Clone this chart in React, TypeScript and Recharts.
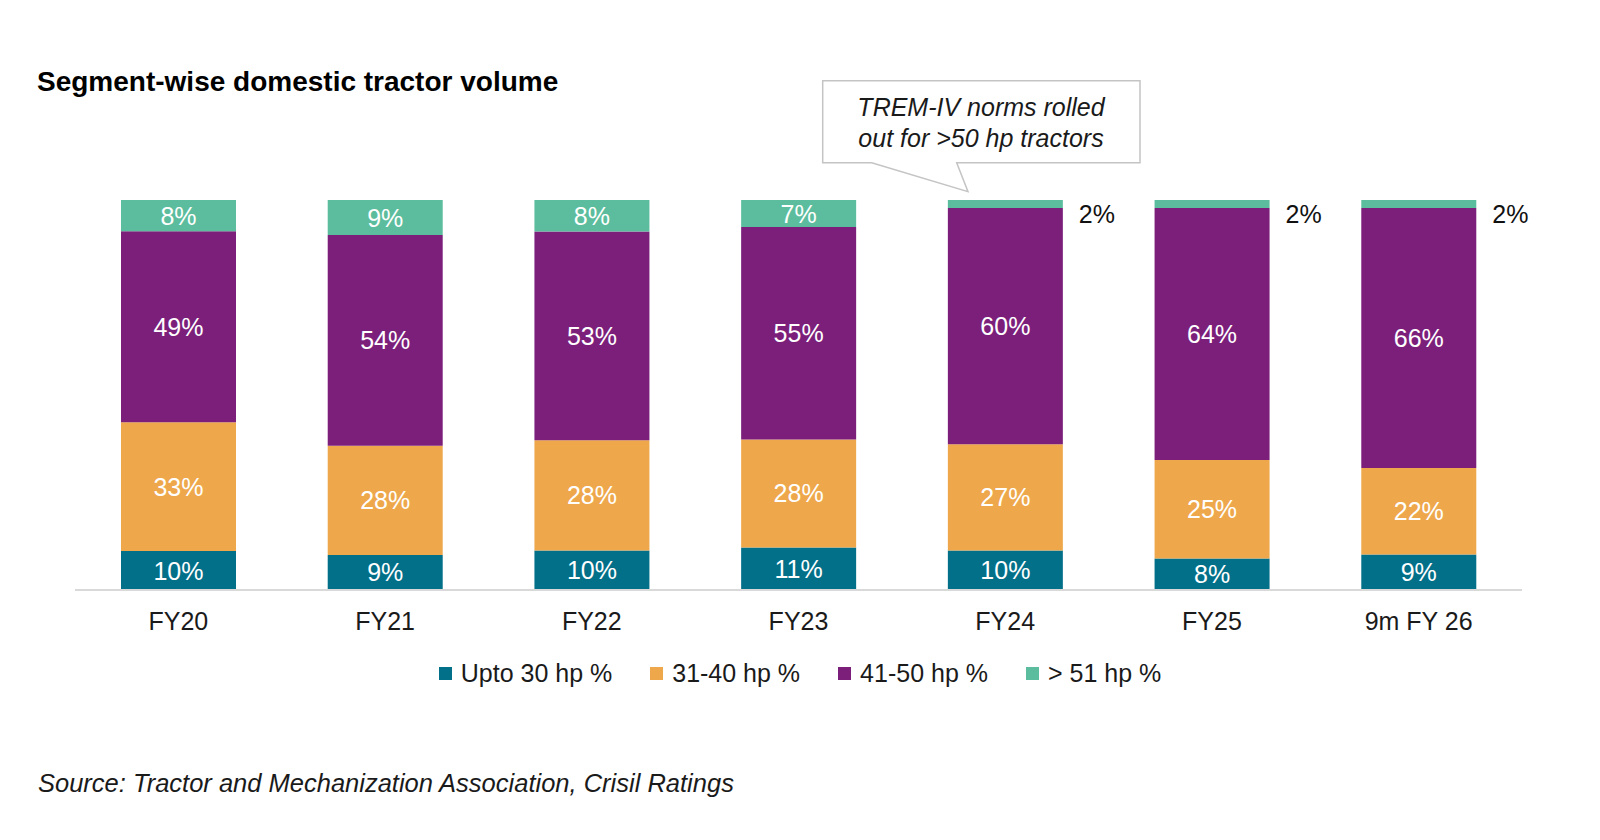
import React from 'react';
import { BarChart, Bar, XAxis, YAxis, LabelList } from 'recharts';

const CATEGORIES = ['FY20', 'FY21', 'FY22', 'FY23', 'FY24', 'FY25', '9m FY 26'];
const UPTO_30 = [10, 9, 10, 11, 10, 8, 9];
const HP_31_40 = [33, 28, 28, 28, 27, 25, 22];
const HP_41_50 = [49, 54, 53, 55, 60, 64, 66];
const ABOVE_51 = [8, 9, 8, 7, 2, 2, 2];

const SERIES = [
  { key: 'upto30', name: 'Upto 30 hp %', color: '#03708a', values: UPTO_30 },
  { key: 'hp3140', name: '31-40 hp %', color: '#eea84b', values: HP_31_40 },
  { key: 'hp4150', name: '41-50 hp %', color: '#7b1f7b', values: HP_41_50 },
  { key: 'above51', name: '> 51 hp %', color: '#5bbd9d', values: ABOVE_51 },
];

const FONT = '"Liberation Sans", Arial, Helvetica, sans-serif';

const data = CATEGORIES.map((cat, i) => ({
  name: cat,
  upto30: UPTO_30[i],
  hp3140: HP_31_40[i],
  hp4150: HP_41_50[i],
  above51: ABOVE_51[i],
}));

// label renderer: inside the segment, or to the right of the bar when the slice is tiny
const makeLabel = (values: number[]) => (props: any) => {
  const vb = props.viewBox || {};
  const x = props.x ?? vb.x;
  const y = props.y ?? vb.y;
  const width = props.width ?? vb.width;
  const height = props.height ?? vb.height;
  const v = values[props.index];
  if (v <= 2) {
    return (
      <text x={x + width + 16} y={y + height / 2 + 10} fill="#111" fontSize={25} fontFamily={FONT}
        textAnchor="start" dominantBaseline="central">
        {v}%
      </text>
    );
  }
  return (
    <text x={x + width / 2} y={y + height / 2} fill="#fff" fontSize={25} fontFamily={FONT}
      textAnchor="middle" dominantBaseline="central">
      {v}%
    </text>
  );
};

export default function App() {
  return (
    <div style={{ position: 'absolute', left: 0, top: 0, width: 1600, height: 840, background: '#fff', fontFamily: FONT }}>
      {/* Title */}
      <div style={{ position: 'absolute', left: 37, top: 68, fontSize: 28, fontWeight: 700, lineHeight: 1, color: '#000', whiteSpace: 'nowrap' }}>
        Segment-wise domestic tractor volume
      </div>

      <div style={{ position: 'absolute', left: 0, top: 0 }}>
        <BarChart width={1600} height={700} data={data} stackOffset="expand" barSize={115}
          margin={{ top: 200, right: 78, bottom: 80, left: 75 }}>
          <XAxis dataKey="name" tickLine={false} tickMargin={16}
            axisLine={{ stroke: '#d9d9d9', strokeWidth: 2 }}
            tick={{ fontSize: 25, fill: '#1a1a1a', fontFamily: FONT }} />
          <YAxis hide domain={[0, 1]} />
          {SERIES.map(s => (
            <Bar key={s.key} dataKey={s.key} stackId="a" fill={s.color} isAnimationActive={false}>
              <LabelList dataKey={s.key} content={makeLabel(s.values)} />
            </Bar>
          ))}
        </BarChart>
      </div>

      {/* Callout */}
      <svg style={{ position: 'absolute', left: 0, top: 0 }} width={1600} height={220}>
        <path d="M822.7,80.7 H1140 V162.7 H956.7 L968,191.7 L871.7,162.7 H822.7 Z"
          fill="#fff" stroke="#c4c4c4" strokeWidth={1.5} />
        <text x={981} y={106.5} fontSize={25} fontStyle="italic" fill="#1a1a1a" fontFamily={FONT}
          textAnchor="middle" dominantBaseline="central">TREM-IV norms rolled</text>
        <text x={981} y={138} fontSize={25} fontStyle="italic" fill="#1a1a1a" fontFamily={FONT}
          textAnchor="middle" dominantBaseline="central">out for &gt;50 hp tractors</text>
      </svg>

      {/* Legend */}
      <div style={{ position: 'absolute', left: 0, width: 1600, top: 661, display: 'flex', justifyContent: 'center', alignItems: 'center', gap: 38, fontSize: 25, lineHeight: 1, color: '#1a1a1a' }}>
        {SERIES.map(s => (
          <div key={s.key} style={{ display: 'flex', alignItems: 'center', gap: 9 }}>
            <span style={{ display: 'inline-block', width: 13, height: 13, background: s.color }} />
            <span>{s.name}</span>
          </div>
        ))}
      </div>

      {/* Source */}
      <div style={{ position: 'absolute', left: 38, top: 771, fontSize: 25.5, fontStyle: 'italic', lineHeight: 1, color: '#1a1a1a', whiteSpace: 'nowrap' }}>
        Source: Tractor and Mechanization Association, Crisil Ratings
      </div>
    </div>
  );
}
